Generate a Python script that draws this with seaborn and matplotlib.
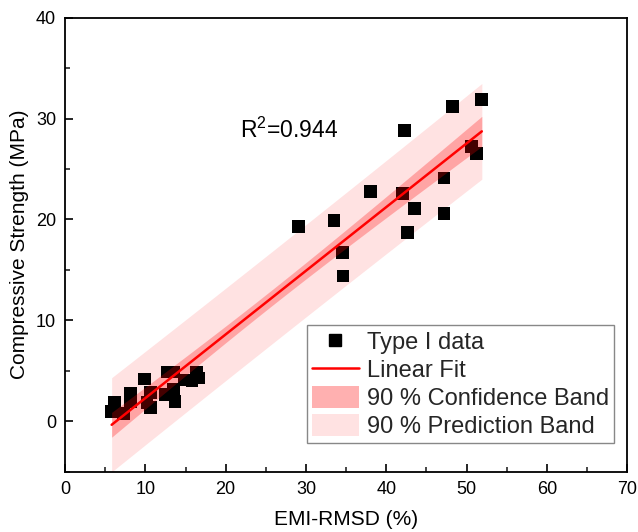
import numpy as np
import pandas as pd
import seaborn as sns
import matplotlib
matplotlib.use("Agg")
import matplotlib.pyplot as plt
from matplotlib.patches import Patch
from matplotlib.lines import Line2D

# Data
emi_rmsd = [5.8, 6.2, 7.3, 8.1, 8.1, 9.9, 10.2, 10.6, 10.6, 12.7, 13.5, 12.5,
            13.5, 13.7, 14.9, 15.8, 16.4, 16.6,
            29.05, 33.5, 34.5, 34.6, 38.0, 42.0, 42.3, 42.6, 43.5, 47.2, 47.2,
            48.2, 50.6, 51.2, 51.9]
strength = [1.0, 1.85, 0.76, 2.8, 2.0, 4.2, 1.9, 2.9, 1.4, 4.9, 4.9, 2.7,
            3.2, 2.0, 4.1, 4.0, 4.9, 4.3,
            19.34, 19.87, 16.7, 14.4, 22.8, 22.6, 28.8, 18.7, 21.1, 24.1, 20.6,
            31.2, 27.2, 26.5, 31.85]
r2_label = "R$^2$=0.944"
x_ticks = [0, 10, 20, 30, 40, 50, 60, 70]
y_ticks = [0, 10, 20, 30, 40]
T_90 = 1.6955  # two-sided 90 % t quantile, df = n - 2 = 31

df = pd.DataFrame({"EMI-RMSD (%)": emi_rmsd, "Compressive Strength (MPa)": strength})

sns.set_theme(style="white")
plt.rcParams["font.family"] = ["Liberation Sans", "DejaVu Sans"]
plt.rcParams["mathtext.fontset"] = "custom"
plt.rcParams["mathtext.rm"] = "Liberation Sans"

fig = plt.figure(figsize=(6.38, 5.32), dpi=100)
ax = fig.add_axes([0.102, 0.113, 0.881, 0.854])

x = np.asarray(emi_rmsd)
y = np.asarray(strength)
n = len(x)
b, a = np.polyfit(x, y, 1)
resid = y - (a + b * x)
s = np.sqrt(np.sum(resid ** 2) / (n - 2))
xm = x.mean()
sxx = np.sum((x - xm) ** 2)
xf = np.linspace(x.min(), x.max(), 200)
yf = a + b * xf
se_conf = s * np.sqrt(1.0 / n + (xf - xm) ** 2 / sxx)
se_pred = s * np.sqrt(1 + 1.0 / n + (xf - xm) ** 2 / sxx)

pred_color = "#FFE2E2"

ax.fill_between(xf, yf - T_90 * se_pred, yf + T_90 * se_pred, color=pred_color,
                lw=0, zorder=1)
sns.scatterplot(data=df, x="EMI-RMSD (%)", y="Compressive Strength (MPa)", ax=ax,
                marker="s", s=85, color="black", edgecolor="none", zorder=2)
ax.fill_between(xf, yf - T_90 * se_conf, yf + T_90 * se_conf, color="red",
                alpha=0.27, lw=0, zorder=3)
sns.lineplot(x=xf, y=yf, ax=ax, color="red", lw=1.8, zorder=4)

ax.set_xlim(0, 70)
ax.set_ylim(-5, 40)
ax.set_xticks(x_ticks)
ax.set_yticks(y_ticks)
ax.set_xticks(np.arange(5, 70, 10), minor=True)
ax.set_yticks(np.arange(-5, 40, 10), minor=True)
ax.tick_params(which="major", direction="in", length=6, width=1.2, labelsize=13,
               bottom=True, left=True, top=False, right=False, pad=6.5, colors="black")
ax.tick_params(which="minor", direction="in", length=3.5, width=1.2,
               bottom=True, left=True, top=False, right=False)
for sp in ax.spines.values():
    sp.set_color("black")
    sp.set_linewidth(1.3)
ax.set_xlabel("EMI-RMSD (%)", fontsize=15, color="black", labelpad=9)
ax.set_ylabel("Compressive Strength (MPa)", fontsize=15, color="black", labelpad=5)

ax.text(21.8, 28.8, r2_label, fontsize=16.5, ha="left", va="center", color="black")

handles = [
    Line2D([], [], marker="s", color="black", ls="none", markersize=8),
    Line2D([], [], color="red", lw=1.8),
    Patch(facecolor="#FFB0B0", edgecolor="none"),
    Patch(facecolor=pred_color, edgecolor="none"),
]
labels = ["Type I data", "Linear Fit", "90 % Confidence Band", "90 % Prediction Band"]
leg = ax.legend(handles, labels, loc="lower right", bbox_to_anchor=(0.977, 0.064),
                borderaxespad=0, fontsize=17, frameon=True, fancybox=False,
                handlelength=2.0, handleheight=1.1, handletextpad=0.36,
                labelspacing=0.15, borderpad=0.2, framealpha=1)
leg.get_frame().set_edgecolor("#888888")
leg.get_frame().set_linewidth(1.0)

fig.savefig("out.png", dpi=100)
